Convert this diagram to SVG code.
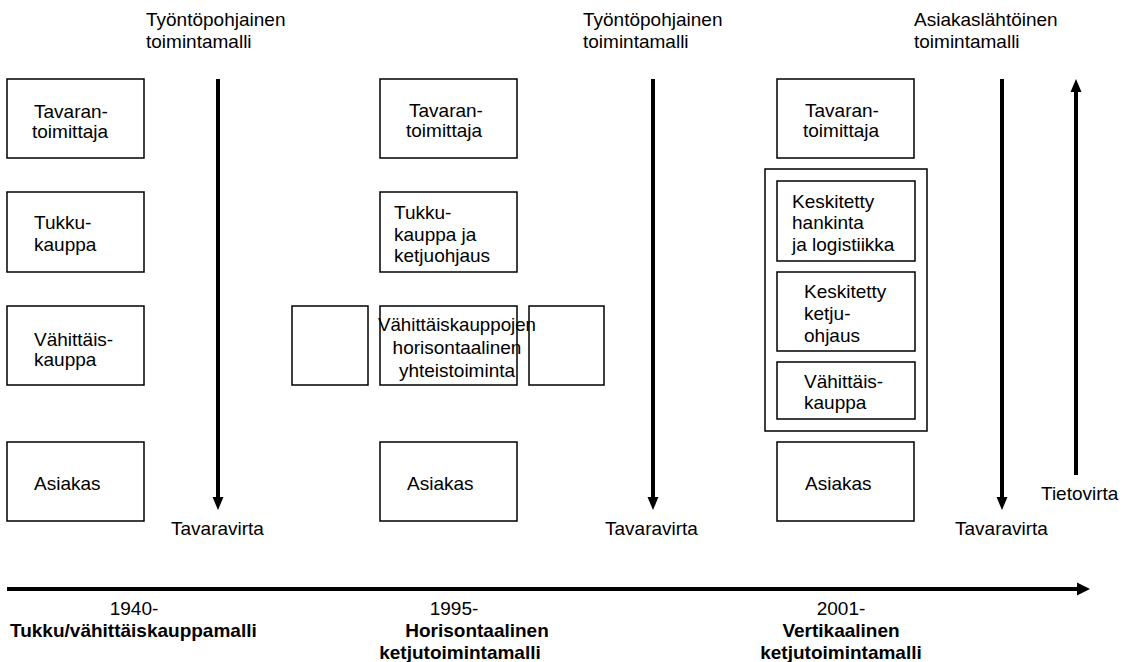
<svg xmlns="http://www.w3.org/2000/svg" width="1129" height="662" viewBox="0 0 1129 662">
<style>
text{font-family:"Liberation Sans",Arial,sans-serif;font-size:19px;fill:#000}
.b{font-weight:bold}
.m{text-anchor:middle}
rect{fill:none;stroke:#000;stroke-width:1.5}
.ar{stroke:#000;stroke-width:4;fill:none}
.hd{fill:#000;stroke:none}
</style>
<g id="labels">
<text x="146" y="26">Työntöpohjainen</text><text x="146" y="48">toimintamalli</text>
<text x="583" y="26">Työntöpohjainen</text><text x="583" y="48">toimintamalli</text>
<text x="914" y="26">Asiakaslähtöinen</text><text x="914" y="48">toimintamalli</text>
<text x="171" y="535">Tavaravirta</text>
<text x="605" y="535">Tavaravirta</text>
<text x="955" y="535">Tavaravirta</text>
<text x="1041" y="500">Tietovirta</text>
</g>
<g id="connectors">
<line class="ar" x1="218" y1="79" x2="218" y2="499"/>
<path class="hd" d="M212.5,497 L223.5,497 L218,510 Z"/>
<line class="ar" x1="653" y1="79" x2="653" y2="499"/>
<path class="hd" d="M647.5,497 L658.5,497 L653,510 Z"/>
<line class="ar" x1="1002" y1="79" x2="1002" y2="499"/>
<path class="hd" d="M996.5,497 L1007.5,497 L1002,510 Z"/>
<line class="ar" x1="1076" y1="475" x2="1076" y2="90"/>
<path class="hd" d="M1070.5,92 L1081.5,92 L1076,79 Z"/>
<line class="ar" x1="7" y1="589" x2="1080" y2="589"/>
<path class="hd" d="M1077,582.5 L1077,595.5 L1090,589 Z"/>
</g>
<g id="l-tavaran"><rect x="7" y="79" width="137" height="79"/><text x="34" y="118">Tavaran-</text><text x="32" y="138">toimittaja</text></g>
<g id="l-tukku"><rect x="7" y="192" width="137" height="80"/><text x="34" y="229">Tukku-</text><text x="34" y="251">kauppa</text></g>
<g id="l-vahittais"><rect x="7" y="306" width="137" height="79"/><text x="34" y="346">Vähittäis-</text><text x="34" y="366">kauppa</text></g>
<g id="l-asiakas"><rect x="7" y="442" width="137" height="79"/><text x="34" y="490">Asiakas</text></g>
<g id="m-tavaran"><rect x="380" y="79" width="137" height="79"/><text x="409" y="117">Tavaran-</text><text x="406" y="137">toimittaja</text></g>
<g id="m-tukku"><rect x="380" y="192" width="137" height="80"/><text x="394" y="219">Tukku-</text><text x="394" y="241">kauppa ja</text><text x="394" y="262">ketjuohjaus</text></g>
<g id="m-left"><rect x="292" y="306" width="76" height="79"/></g>
<g id="m-right"><rect x="529" y="306" width="75" height="79"/></g>
<g id="m-vahittais"><rect x="380" y="306" width="137" height="79"/><text class="m" x="457" y="331" textLength="158" lengthAdjust="spacingAndGlyphs">Vähittäiskauppojen</text><text class="m" x="457" y="354">horisontaalinen</text><text class="m" x="457" y="377">yhteistoiminta</text></g>
<g id="m-asiakas"><rect x="380" y="442" width="137" height="79"/><text x="407" y="490">Asiakas</text></g>
<g id="r-tavaran"><rect x="777" y="79" width="137" height="79"/><text x="805" y="117">Tavaran-</text><text x="803" y="137">toimittaja</text></g>
<g id="r-group"><rect x="765" y="169" width="162" height="262"/></g>
<g id="r-hankinta"><rect x="777" y="181" width="138" height="80"/><text x="792" y="208">Keskitetty</text><text x="792" y="229">hankinta</text><text x="792" y="251">ja logistiikka</text></g>
<g id="r-ketju"><rect x="777" y="272" width="138" height="79"/><text x="804" y="298">Keskitetty</text><text x="804" y="320">ketju-</text><text x="804" y="342">ohjaus</text></g>
<g id="r-vahittais"><rect x="777" y="362" width="138" height="57"/><text x="804" y="388">Vähittäis-</text><text x="804" y="409">kauppa</text></g>
<g id="r-asiakas"><rect x="777" y="442" width="137" height="79"/><text x="805" y="490">Asiakas</text></g>
<g id="timeline">
<text class="m" x="134" y="615">1940-</text><text class="b" x="10" y="637">Tukku/vähittäiskauppamalli</text>
<text class="m" x="454" y="615">1995-</text><text class="b m" x="477" y="637">Horisontaalinen</text><text class="b m" x="460" y="659">ketjutoimintamalli</text>
<text class="m" x="841" y="615">2001-</text><text class="b m" x="841" y="637">Vertikaalinen</text><text class="b m" x="841" y="659">ketjutoimintamalli</text>
</g>
</svg>
